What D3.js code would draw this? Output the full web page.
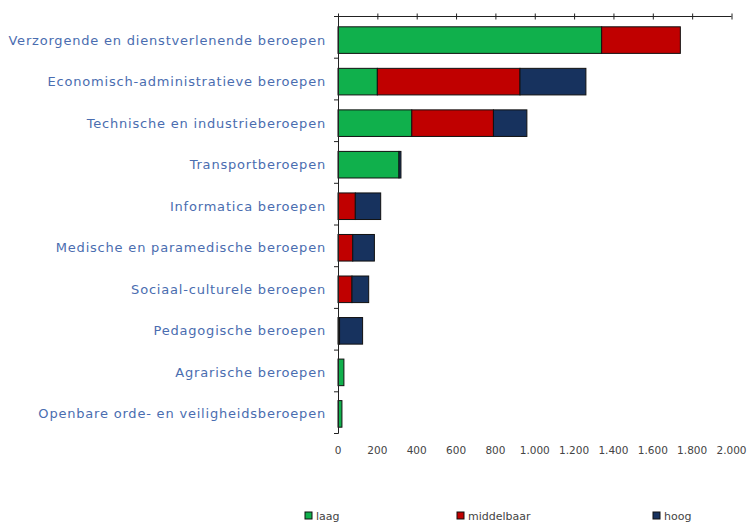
<!DOCTYPE html>
<html><head><meta charset="utf-8">
<script src="https://cdn.jsdelivr.net/npm/d3@7"></script>
<style>body{margin:0;background:#fff}svg{display:block}</style>
</head><body>
<svg id="c" width="752" height="524"></svg>
<script>
const categories = [
  "Verzorgende en dienstverlenende beroepen",
  "Economisch-administratieve beroepen",
  "Technische en industrieberoepen",
  "Transportberoepen",
  "Informatica beroepen",
  "Medische en paramedische beroepen",
  "Sociaal-culturele beroepen",
  "Pedagogische beroepen",
  "Agrarische beroepen",
  "Openbare orde- en veiligheidsberoepen"
];
const laag        = [1340, 200, 375, 310, 0, 0, 0, 0, 30, 20];
const middelbaar  = [400, 725, 415, 0, 88, 75, 71, 8, 0, 0];
const hoog        = [0, 335, 170, 10, 129, 110, 85, 117, 0, 0];
const seriesNames = ["laag", "middelbaar", "hoog"];
const seriesColors = ["#10b04c", "#c00000", "#17325e"];
const xTicks = [0, 200, 400, 600, 800, 1000, 1200, 1400, 1600, 1800, 2000];

const svg = d3.select("#c");
const x = d3.scaleLinear().domain([0, 2000]).range([338, 731.5]);
const y = d3.scaleBand().domain(categories).range([17, 434]).paddingInner(0.36).paddingOuter(0.2);

const rows = categories.map((c, i) => ({cat: c, laag: laag[i], middelbaar: middelbaar[i], hoog: hoog[i]}));
const stacked = d3.stack().keys(seriesNames)(rows);

const g = svg.append("g");
stacked.forEach((s, si) => {
  g.selectAll(null).data(s.filter(d => d[1] - d[0] > 0)).enter().append("rect")
    .attr("x", d => x(d[0]))
    .attr("y", d => y(d.data.cat) + 1.5)
    .attr("width", d => x(d[1]) - x(d[0]))
    .attr("height", y.bandwidth())
    .attr("fill", seriesColors[si])
    .attr("stroke", "#111")
    .attr("stroke-width", 1);
});

// top axis
const xAxis = d3.axisTop(x).tickValues(xTicks).tickSize(3).tickFormat("");
const ax = svg.append("g").attr("transform", "translate(0,16.5)").call(xAxis);
ax.select(".domain").attr("stroke", "#222").attr("d", "M338,0H731.5");
ax.selectAll(".tick line").attr("y1", 3).attr("y2", -3).attr("stroke", "#222");

// bottom tick labels
const fmt = v => d3.format(",")(v).replace(/,/g, ".");
svg.append("g").selectAll("text").data(xTicks).enter().append("text")
  .attr("x", d => x(d)).attr("y", 454)
  .attr("text-anchor", "middle")
  .attr("font-family", "DejaVu Sans, Verdana, sans-serif")
  .attr("font-size", 10.5)
  .attr("fill", "#444")
  .text(fmt);

// vertical axis
const bounds = d3.range(categories.length + 1).map(i => 16.5 + i * 41.7);
svg.append("line").attr("x1", 338.5).attr("x2", 338.5).attr("y1", 16.5).attr("y2", 433.5).attr("stroke", "#222");
svg.append("g").selectAll("line").data(bounds).enter().append("line")
  .attr("x1", 334).attr("x2", 338.5).attr("y1", d => d).attr("y2", d => d).attr("stroke", "#222");

// category labels
svg.append("g").selectAll("text").data(categories).enter().append("text")
  .attr("x", 326).attr("y", d => y(d) + y.bandwidth() / 2 + 1.5)
  .attr("dy", "0.35em")
  .attr("text-anchor", "end")
  .attr("font-family", "DejaVu Sans, Verdana, sans-serif")
  .attr("font-size", 13)
  .attr("letter-spacing", 0.8)
  .attr("fill", "#4a6db0")
  .text(d => d);

// legend
const legX = [305, 457, 653];
const lg = svg.append("g");
seriesNames.forEach((n, i) => {
  lg.append("rect").attr("x", legX[i]).attr("y", 512).attr("width", 7).attr("height", 7)
    .attr("fill", seriesColors[i]).attr("stroke", "#111").attr("stroke-width", 1);
  lg.append("text").attr("x", legX[i] + 11).attr("y", 520)
    .attr("font-family", "DejaVu Sans, Verdana, sans-serif")
    .attr("font-size", 11).attr("fill", "#444").text(n);
});
</script>
</body></html>
